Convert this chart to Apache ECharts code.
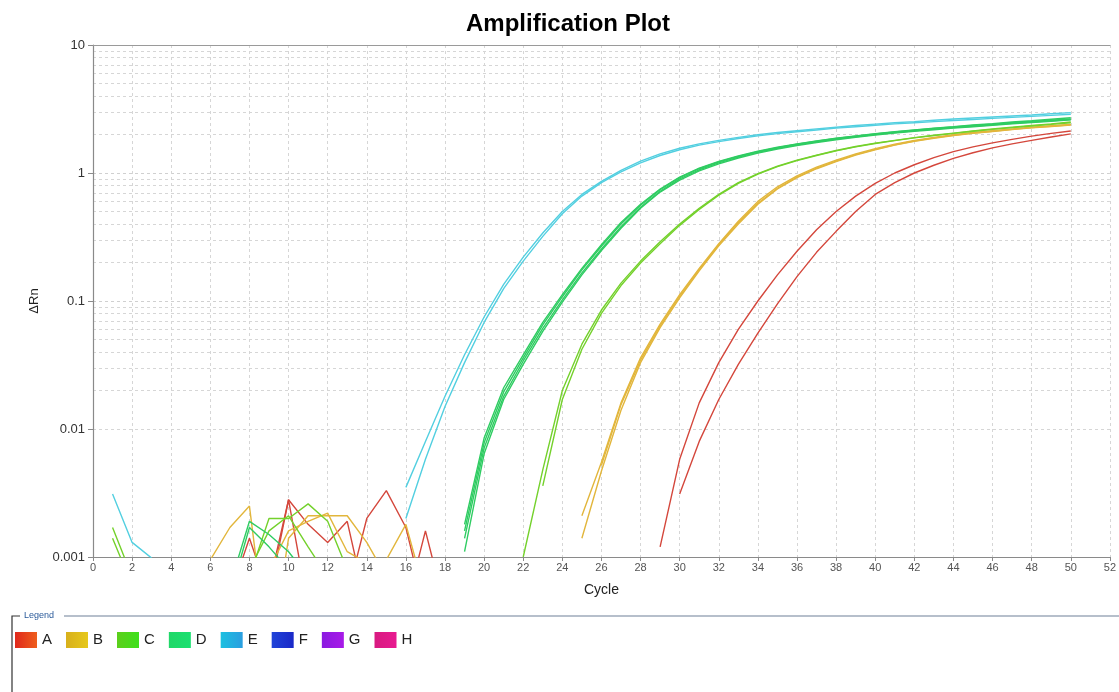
<!DOCTYPE html>
<html>
<head>
<meta charset="utf-8">
<title>Amplification Plot</title>
<script src="https://cdn.jsdelivr.net/npm/echarts@6/dist/echarts.min.js"></script>
<style>
  html, body { margin: 0; padding: 0; background: #ffffff; }
  #chart { width: 1119px; height: 692px; }
</style>
</head>
<body>
<div id="chart"></div>
<script>
// ΔRn per cycle (cycles 1..50); null = reading not plottable on the log scale
const _ = null;
const cycles = Array.from({ length: 50 }, (v, i) => i + 1);

const wellA1 = [
  _, _, _, _, _, _, 0.0005, 0.0014, 0.0005, 0.0028,
  0.0004, _, 0.0005, 0.002, 0.0033, 0.0017, 0.0004, _, _, _,
  _, _, _, _, _, _, _, _, 0.0012, 0.0058,
  0.016, 0.033, 0.06, 0.1, 0.16, 0.245, 0.36, 0.5, 0.66, 0.83,
  1.0, 1.16, 1.32, 1.47, 1.6, 1.72, 1.83, 1.94, 2.04, 2.13
];
const wellA2 = [
  _, _, _, _, _, _, _, _, 0.0006, 0.0028,
  0.0018, 0.0013, 0.0019, 0.0004, _, 0.0004, 0.0016, 0.0004, _, _,
  _, _, _, _, _, _, _, _, _, 0.0031,
  0.008, 0.017, 0.032, 0.056, 0.095, 0.155, 0.24, 0.35, 0.5, 0.68,
  0.84, 1.0, 1.15, 1.3, 1.44, 1.57, 1.69, 1.8, 1.91, 2.02
];
const wellB1 = [
  _, _, _, _, _, 0.00095, 0.0017, 0.0025, 0.00015, 0.0014,
  0.0021, 0.0021, 0.0021, 0.0013, 0.0007, _, _, _, _, _,
  _, _, _, _, 0.0021, 0.0055, 0.016, 0.036, 0.066, 0.112,
  0.18, 0.28, 0.42, 0.6, 0.78, 0.95, 1.11, 1.26, 1.41, 1.55,
  1.68, 1.8, 1.9, 1.99, 2.07, 2.14, 2.21, 2.28, 2.34, 2.4
];
const wellB2 = [
  _, _, _, _, _, _, _, _, 0.0008, 0.0016,
  0.0019, 0.0022, 0.0011, 0.0009, 0.00095, 0.0018, 0.0005, _, _, _,
  _, _, _, _, 0.0014, 0.0047, 0.014, 0.033, 0.062, 0.106,
  0.172, 0.27, 0.4, 0.57, 0.75, 0.92, 1.08, 1.23, 1.38, 1.52,
  1.65, 1.77, 1.87, 1.96, 2.04, 2.11, 2.18, 2.25, 2.31, 2.37
];
const wellB3 = [
  _, _, _, _, _, _, _, _, _, _,
  _, _, _, _, _, _, _, _, _, _,
  _, _, _, _, _, 0.0052, 0.0155, 0.0345, 0.064, 0.109,
  0.176, 0.275, 0.41, 0.58, 0.76, 0.93, 1.09, 1.24, 1.39, 1.53,
  1.66, 1.78, 1.88, 1.97, 2.05, 2.12, 2.19, 2.26, 2.32, 2.38
];
const wellC1 = [
  0.0017, 0.0007, _, _, _, _, _, 0.0007, 0.002, 0.002,
  0.0026, 0.0019, 0.0008, _, _, _, _, _, _, _,
  _, 0.001, 0.0048, 0.02, 0.046, 0.085, 0.138, 0.205, 0.29, 0.4,
  0.53, 0.68, 0.84, 0.99, 1.13, 1.26, 1.38, 1.5, 1.61, 1.71,
  1.8, 1.89, 1.97, 2.05, 2.13, 2.21, 2.28, 2.35, 2.42, 2.5
];
const wellC2 = [
  0.0014, 0.0006, _, _, _, _, _, 0.0008, 0.0016, 0.0021,
  0.0012, 0.0007, _, _, _, _, _, _, _, _,
  _, _, 0.0036, 0.017, 0.042, 0.08, 0.132, 0.198, 0.28, 0.39,
  0.52, 0.67, 0.83, 0.98, 1.12, 1.25, 1.37, 1.49, 1.6, 1.7,
  1.79, 1.88, 1.96, 2.04, 2.12, 2.19, 2.26, 2.33, 2.4, 2.47
];
const wellD1 = [
  _, _, _, _, _, _, 0.0006, 0.0019, 0.0015, 0.0011,
  0.0007, _, _, _, _, _, _, _, 0.0018, 0.0085,
  0.021, 0.038, 0.068, 0.112, 0.18, 0.275, 0.41, 0.57, 0.75, 0.93,
  1.09, 1.23, 1.36, 1.48, 1.59, 1.69, 1.78, 1.87, 1.95, 2.03,
  2.1, 2.17, 2.24, 2.3, 2.37, 2.43, 2.5, 2.56, 2.63, 2.7
];
const wellD2 = [
  _, _, _, _, _, _, 0.0005, 0.0017, 0.0012, 0.0008,
  _, _, _, _, _, _, _, _, 0.0016, 0.0078,
  0.0195, 0.036, 0.065, 0.108, 0.175, 0.268, 0.4, 0.56, 0.74, 0.92,
  1.08, 1.22, 1.35, 1.47, 1.58, 1.68, 1.77, 1.86, 1.94, 2.02,
  2.09, 2.16, 2.23, 2.29, 2.35, 2.41, 2.47, 2.53, 2.59, 2.65
];
const wellD3 = [
  _, _, _, _, _, _, _, _, _, _,
  _, _, _, _, _, _, _, _, 0.0014, 0.0071,
  0.018, 0.034, 0.061, 0.102, 0.166, 0.255, 0.38, 0.54, 0.72, 0.9,
  1.06, 1.2, 1.33, 1.45, 1.56, 1.66, 1.75, 1.84, 1.92, 2.0,
  2.07, 2.14, 2.2, 2.26, 2.32, 2.38, 2.44, 2.5, 2.56, 2.62
];
const wellD4 = [
  _, _, _, _, _, _, _, _, _, _,
  _, _, _, _, _, _, _, _, 0.0011, 0.0064,
  0.017, 0.032, 0.058, 0.098, 0.16, 0.248, 0.37, 0.53, 0.71, 0.88,
  1.04, 1.18, 1.31, 1.43, 1.54, 1.64, 1.73, 1.82, 1.9, 1.98,
  2.05, 2.12, 2.18, 2.24, 2.3, 2.36, 2.42, 2.48, 2.54, 2.6
];
const wellE1 = [
  0.0031, 0.0013, 0.00098, _, _, _, _, _, _, _,
  _, _, _, _, _, 0.0035, 0.008, 0.018, 0.038, 0.075,
  0.135, 0.22, 0.34, 0.5, 0.68, 0.86, 1.05, 1.24, 1.41, 1.56,
  1.69, 1.8, 1.9, 1.99, 2.07, 2.14, 2.21, 2.28, 2.35, 2.41,
  2.47, 2.52, 2.58, 2.64, 2.69, 2.74, 2.79, 2.84, 2.9, 2.96
];
const wellE2 = [
  _, _, _, _, _, _, _, _, _, _,
  _, _, _, _, _, 0.002, 0.0058, 0.015, 0.033, 0.068,
  0.125, 0.205, 0.32, 0.48, 0.66, 0.84, 1.02, 1.2, 1.37, 1.52,
  1.65, 1.76, 1.86, 1.95, 2.03, 2.1, 2.17, 2.24, 2.3, 2.36,
  2.42, 2.47, 2.52, 2.57, 2.62, 2.67, 2.72, 2.77, 2.82, 2.88
];
// rows F, G, H never rise above the plotted range
const wellF = [];
const wellG = [];
const wellH = [];

const groups = ['A', 'B', 'C', 'D', 'E', 'F', 'G', 'H'];
const replicates = {
  A: [wellA1, wellA2],
  B: [wellB1, wellB2, wellB3],
  C: [wellC1, wellC2],
  D: [wellD1, wellD2, wellD3, wellD4],
  E: [wellE1, wellE2],
  F: [wellF],
  G: [wellG],
  H: [wellH]
};
const xTicks = [0, 52, 2];
const yDecades = [0.001, 0.01, 0.1, 1, 10];

const lineColors = {
  A: '#d4473c', B: '#e2b63c', C: '#74d12c', D: '#2fcc62',
  E: '#52cfe0', F: '#2238d0', G: '#9a22e6', H: '#e0228a'
};
const swatch = {
  A: ['#e0281c', '#ee5e1c'], B: ['#d8b01c', '#e6c81c'], C: ['#5ccf1c', '#3ee01c'],
  D: ['#20d868', '#1ae070'], E: ['#1cc0e0', '#2a9ee0'], F: ['#2044d8', '#1a28c8'],
  G: ['#8a1ae0', '#a81ae8'], H: ['#d81a80', '#e81a90']
};

const font = '"Liberation Sans", Arial, Helvetica, sans-serif';

const series = [];
groups.forEach(g => {
  replicates[g].forEach(vals => {
    series.push({
      name: g,
      type: 'line',
      xAxisIndex: 0,
      data: vals.map((v, i) => [cycles[i], v]),
      showSymbol: false,
      symbol: 'none',
      connectNulls: false,
      clip: true,
      lineStyle: { width: 1.4, color: lineColors[g] },
      itemStyle: { color: lineColors[g] },
      emphasis: { disabled: true },
      z: 3
    });
  });
});

// dashed minor grid at 2..9 within each decade
const minorLines = [];
for (let d = 0; d < yDecades.length - 1; d++) {
  for (let k = 2; k <= 9; k++) {
    minorLines.push({ yAxis: +(yDecades[d] * k).toPrecision(3) });
  }
}
series.push({
  name: 'grid',
  type: 'line',
  data: [],
  z: 0,
  silent: true,
  markLine: {
    silent: true,
    z: 0,
    symbol: 'none',
    label: { show: false },
    lineStyle: { type: [3, 3], color: '#d6d6d6', width: 1 },
    emphasis: { disabled: true },
    data: minorLines
  }
});

const chart = echarts.init(document.getElementById('chart'), null, { renderer: 'canvas' });

chart.setOption({
  backgroundColor: '#ffffff',
  animation: false,
  title: {
    text: 'Amplification Plot',
    left: 466,
    top: 12,
    padding: 0,
    textStyle: { fontFamily: font, fontWeight: 'bold', fontSize: 24, color: '#000' }
  },
  grid: { left: 93, right: 6, top: 45, bottom: 135, containLabel: false },
  legend: {
    left: 15,
    top: 632,
    padding: 0,
    orient: 'horizontal',
    icon: 'rect',
    itemWidth: 22,
    itemHeight: 16,
    itemGap: 14,
    selectedMode: false,
    textStyle: { fontFamily: font, fontSize: 15, color: '#222', padding: [0, 0, 0, 0] },
    data: groups.map(g => ({
      name: g,
      itemStyle: {
        color: {
          type: 'linear', x: 0, y: 0, x2: 1, y2: 0,
          colorStops: [{ offset: 0, color: swatch[g][0] }, { offset: 1, color: swatch[g][1] }]
        }
      }
    }))
  },
  xAxis: [{
    type: 'value',
    min: xTicks[0],
    max: xTicks[1],
    interval: xTicks[2],
    name: 'Cycle',
    nameLocation: 'middle',
    nameGap: 26,
    nameTextStyle: { fontFamily: font, fontSize: 14, color: '#222' },
    axisLine: { show: true, onZero: false, lineStyle: { color: '#8a8a8a', width: 1.2 } },
    axisTick: { show: true, length: 4, lineStyle: { color: '#8a8a8a' } },
    axisLabel: { fontFamily: font, fontSize: 11, color: '#555', margin: 5 },
    splitLine: { show: true, lineStyle: { type: [3, 3], color: '#d6d6d6', width: 1 } }
  }, {
    type: 'value',
    position: 'top',
    min: xTicks[0],
    max: xTicks[1],
    interval: xTicks[2],
    axisLine: { show: true, onZero: false, lineStyle: { color: '#9a9a9a', width: 1.2 } },
    axisTick: { show: false },
    axisLabel: { show: false },
    splitLine: { show: false }
  }],
  yAxis: {
    type: 'log',
    logBase: 10,
    min: yDecades[0],
    max: yDecades[yDecades.length - 1],
    name: 'ΔRn',
    nameLocation: 'middle',
    nameGap: 52,
    nameRotate: 90,
    nameTextStyle: { fontFamily: font, fontSize: 13, color: '#222' },
    axisLine: { show: true, lineStyle: { color: '#8a8a8a', width: 1.2 } },
    axisTick: { show: true, length: 5, lineStyle: { color: '#8a8a8a' } },
    axisLabel: {
      fontFamily: font, fontSize: 13, color: '#333', margin: 8,
      formatter: v => {
        const m = yDecades.find(d => Math.abs(d - v) / d < 1e-6);
        return m !== undefined ? String(m) : '';
      }
    },
    splitLine: { show: true, lineStyle: { type: [3, 3], color: '#d0d0d0', width: 1 } }
  },
  graphic: [
    {
      type: 'polyline',
      silent: true,
      shape: { points: [[12, 692], [12, 616], [20, 616]] },
      style: { stroke: '#333', lineWidth: 1.2, fill: null }
    },
    {
      type: 'line',
      silent: true,
      shape: { x1: 64, y1: 616, x2: 1119, y2: 616 },
      style: { stroke: '#6f8098', lineWidth: 1.2 }
    },
    {
      type: 'text',
      silent: true,
      left: 24,
      top: 611,
      style: { text: 'Legend', fill: '#2a5a9a', font: '9px ' + font }
    }
  ],
  series: series
});
</script>
</body>
</html>
